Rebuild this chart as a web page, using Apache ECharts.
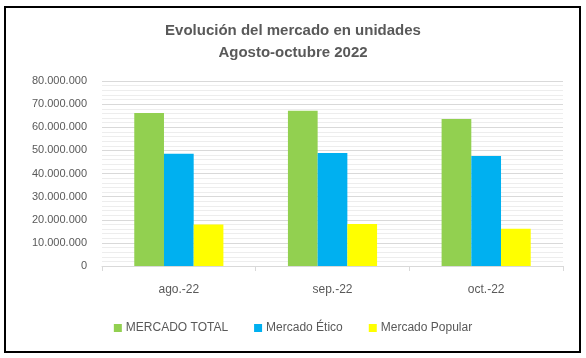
<!DOCTYPE html>
<html><head><meta charset="utf-8">
<script src="https://cdn.jsdelivr.net/npm/echarts@6/dist/echarts.min.js"></script>
<style>html,body{margin:0;padding:0;background:#fff}#c{width:586px;height:358px}</style>
</head><body><div id="c"></div>
<script>
const categories = ['ago.-22', 'sep.-22', 'oct.-22'];
const seriesNames = ['MERCADO TOTAL', 'Mercado Ético', 'Mercado Popular'];
const mercadoTotal = [66200000, 67100000, 63600000];
const mercadoEtico = [48500000, 48900000, 47600000];
const mercadoPopular = [17900000, 18200000, 16100000];
const colors = ['#92D050', '#00B0F0', '#FFFF00'];
const yMax = 80000000, yStep = 10000000;

const fmt = v => String(v).replace(/\B(?=(\d{3})+(?!\d))/g, '.');
const FONT = 'Liberation Sans';
const chart = echarts.init(document.getElementById('c'), null, {renderer: 'canvas'});
chart.setOption({
  animation: false,
  backgroundColor: '#fff',
  textStyle: {fontFamily: FONT},
  title: {
    text: 'Evolución del mercado en unidades\nAgosto-octubre 2022',
    left: 'center', top: 15,
    textStyle: {fontFamily: FONT, fontSize: 15, fontWeight: 'bold', color: '#595959', lineHeight: 22}
  },
  graphic: [{type: 'rect', shape: {x: 5, y: 7, width: 575, height: 345}, style: {fill: null, stroke: '#000', lineWidth: 2}, z: 100}],
  legend: {
    bottom: 19, left: 'center', itemWidth: 8, itemHeight: 8, itemGap: 26,
    icon: 'rect',
    textStyle: {fontFamily: FONT, fontSize: 12, color: '#595959', padding: [0, 0, 0, -1]},
    data: seriesNames
  },
  grid: {left: 102, right: 23, top: 81, bottom: 92, containLabel: false},
  xAxis: {
    type: 'category', data: categories,
    axisLine: {lineStyle: {color: '#D9D9D9'}},
    axisTick: {show: true, length: 5, lineStyle: {color: '#D9D9D9'}},
    axisLabel: {fontFamily: FONT, fontSize: 12, color: '#595959', margin: 18}
  },
  yAxis: {
    type: 'value', min: 0, max: yMax, interval: yStep,
    axisLine: {show: false}, axisTick: {show: false},
    axisLabel: {fontFamily: FONT, fontSize: 11, color: '#595959', margin: 15, formatter: fmt},
    splitLine: {lineStyle: {color: '#D9D9D9'}},
    minorTick: {show: false, splitNumber: 5},
    minorSplitLine: {show: true, lineStyle: {color: '#EDEDED'}}
  },
  series: [
    {name: seriesNames[0], type: 'bar', data: mercadoTotal, itemStyle: {color: colors[0]}, barGap: '0%', barCategoryGap: '42%'},
    {name: seriesNames[1], type: 'bar', data: mercadoEtico, itemStyle: {color: colors[1]}, barGap: '0%', barCategoryGap: '42%'},
    {name: seriesNames[2], type: 'bar', data: mercadoPopular, itemStyle: {color: colors[2]}, barGap: '0%', barCategoryGap: '42%'}
  ]
});
</script></body></html>
